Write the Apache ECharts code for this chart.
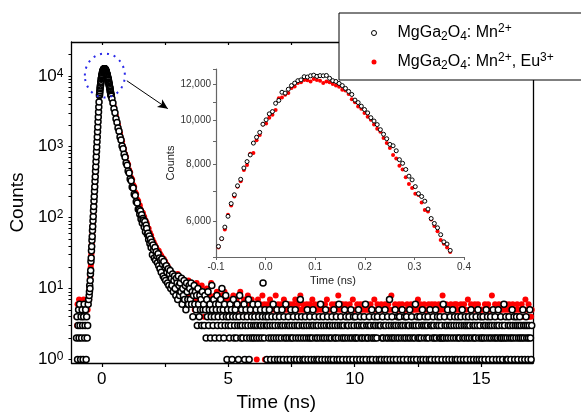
<!DOCTYPE html>
<html><head><meta charset="utf-8">
<script src="https://cdn.jsdelivr.net/npm/echarts@6/dist/echarts.min.js"></script>
<style>html,body{margin:0;padding:0;background:#fff}#c{width:581px;height:417px}</style>
</head><body><div id="c"></div><script>
// ---------------- data ----------------
const seriesNames = ['MgGa2O4: Mn2+', 'MgGa2O4: Mn2+, Eu3+'];

const mainXLabels = [0, 5, 10, 15];
const mainXTicks = [0, 2.5, 5, 7.5, 10, 12.5, 15];
const mainYLabels = [1, 10, 100, 1000, 10000];
const mainYTicks = [1,2,3,4,5,6,7,8,9,10,20,30,40,50,60,70,80,90,100,200,300,400,500,600,700,800,900,
  1000,2000,3000,4000,5000,6000,7000,8000,9000,10000,20000];
const insetYLabels = [6000, 8000, 10000, 12000];
const insetYTicks = [5000, 6000, 7000, 8000, 9000, 10000, 11000, 12000, 13000];

// TCSPC channel sections: start time (ns), channel width (ns), counts
const baselineStart = -1.0, baselineStep = 0.02;
const baselineBlack = [2,4,1,3,5,2,6,3,1,4,2,5,3,1,4,6,2,3,5,1,4,2,3,6,7];
const baselineRed   = [4,3,6,2,5,7,3,4,5,3,6,4,2,5,7,3,4,6,3,5,4,7,5,6,7];

const riseStart = -0.50, riseStep = 0.01;
const riseBlack = [8,9,11,10,13,16,18,24,27,34,39,48,54,66,75,90,104,125,143,172,198,236,272,327,377,450,520,620,720,855,995,1180,1370,1630,1900,2250,2620,3100,3620,4280];
const riseRed   = [7,10,9,12,14,15,20,22,29,31,41,45,57,63,78,86,108,120,148,166,204,230,280,318,385,440,530,610,735,840,1010,1160,1390,1600,1920,2220,2650,3060,3650,4230];

const peakStart = -0.095, peakStep = 0.0064;
const peakBlack = [5276,5490,5820,6150,6560,6860,7180,7420,7860,8120,8400,8920,9190,9420,9820,10040,10350,10470,10920,11080,
  11550,11500,11730,11950,12100,12250,12300,12500,12480,12560,12600,12520,12570,12560,12580,12400,12250,12200,12080,11950,
  11780,11600,11420,11100,10960,10760,10580,10400,10150,9980,9800,9550,9330,9120,8860,8800,8580,8200,8050,7800,
  7540,7400,7150,6900,6800,6640,6380,6080,5930,5800,5600,5400,5340,5170];
const peakRed = [5250,5480,5750,6200,6500,6800,7150,7350,7780,7980,8450,8480,9050,9300,9800,9850,10150,10300,10550,11200,
  11250,11400,11500,11800,11900,12100,12150,12300,12280,12200,12350,12300,12250,12100,12200,12150,12050,11950,11880,11700,
  11650,11450,11150,10980,10750,10620,10400,10200,10050,9800,9600,9450,9150,8920,8700,8400,8250,7950,7800,7500,
  7250,7100,6900,6850,6600,6350,6300,6050,5850,5700,5450,5350,5250,5130];

const decayStart = 0.40, decayStep = 0.04;
const decayBlack = [4760,4150,3420,3010,2480,2200,1830,1650,1370,1240,1020,940,780,712,590,548,455,425,351,332,
  270,262,214,205,168,161,131,129];
const decayRed = [4700,4200,3620,3050,2700,2290,2040,1720,1560,1320,1190,1010,925,780,715,600,560,470,438,365,
  344,288,272,228,216,180,172,144];

const slowStart = 1.50, slowStep = 0.025;
const slowBlack = [112,124,96,110,84,97,92,74,88,63,78,70,58,60,49,55,43,50,38,45,
  30,41,35,27,38,25,33,29,23,31,21,27,19,25,17,26,22,15,24,14,
  20,13,21,17,12,19,11,16,18,10,14,11,16,9,13,15,10,8,14,12,
  7,15,11,8,12,9,14,6,10,8,13,7,11,5,12,9,7,6,11,10,
  7,12,6,9,4,8,11,6,9,5,8,3,10,6,4,8,5,7,3,9,5];
const slowRed = [150,132,126,121,108,116,97,103,88,92,80,84,72,63,70,57,61,52,56,47,
  49,40,45,36,41,33,38,29,35,27,34,25,31,23,29,22,27,20,26,19,
  24,17,22,15,21,14,19,13,18,12,17,11,16,13,10,15,12,9,14,11,
  16,9,13,10,12,8,14,9,11,7,13,10,8,12,6,11,9,13,7,10,
  8,12,6,9,11,7,10,5,9,8,12,6,7,10,5,9,8,6,11,7,6];

const tailStart = 4.025, tailStep = 0.025;
const tailBlack = [
  6,3,8,5,2,7,4,9,3,5,6,2,4,11,5,3,7,4,2,6,
  5,8,3,4,6,2,5,7,3,10,4,5,2,6,3,8,4,1,5,3,
  4,2,6,3,5,1,4,7,2,3,5,4,2,6,3,1,4,8,3,2,
  5,3,2,4,6,1,3,5,2,4,3,7,1,2,5,3,4,2,6,3,
  2,4,3,5,2,3,6,4,2,3,5,3,2,4,12,3,2,5,4,3,
  1,3,4,2,5,3,1,2,4,3,6,2,1,3,4,2,5,1,3,2,
  4,1,3,2,5,3,1,4,2,3,6,2,1,3,4,2,3,1,5,2,
  3,2,4,1,3,5,2,1,3,4,2,3,1,7,2,4,3,1,2,3,
  1,4,2,3,5,1,2,3,4,2,1,3,2,5,3,1,4,2,3,1,
  2,3,1,4,2,6,3,1,2,4,3,2,1,5,3,2,4,1,3,2,
  3,1,2,4,3,1,5,2,3,2,4,1,3,2,6,1,3,4,2,3,
  1,2,3,5,2,4,1,3,2,3,4,1,2,5,3,2,1,4,3,2,
  4,2,1,3,2,5,3,1,4,2,3,2,1,3,4,2,6,1,3,2,
  2,3,4,1,3,2,5,1,2,3,4,2,3,1,2,4,3,5,1,3,
  3,1,2,4,2,3,1,5,3,2,1,4,2,3,7,1,2,3,4,2,
  1,3,2,5,3,1,2,4,3,2,4,1,3,2,5,3,1,2,4,3,
  2,4,1,3,2,3,5,2,1,4,3,2,1,3,2,6,3,1,4,2,
  3,2,4,1,2,3,5,1,3,2,4,3,1,2,3,4,2,1,5,3,
  1,3,2,4,3,2,1,5,2,3,4,1,3,2,4,2,3,1,2,6,
  2,4,3,1,2,3,5,2,1,3,4,2,3,1,5,2,3,4,1,2,
  3,1,4,2,3,2,1,4,3,5,2,1,3,2,4,3,1,2,3,4,
  2,3,1,5,2,4,3,1,2,3,2,4,1,3,5,2,1,3,4,2,
  1,2,4,3,2,1,3,5,2,4,3,1,2,3,4,2,3,1,5,2,
  3,4,2,1,3,2,5,3,1,2,4,2,3,1,2,6,3,2,4,1,
  2,1,3,4,2,3,1,2,5,3,2,4,1,3,2,4,3,1,2,3,
  4,2,3,1,2,5,3,2,1,3,4,2,3,1,2,3,5,2,1,3];
const tailRed = [
  7,4,9,5,6,10,3,7,5,8,4,6,12,5,3,7,6,4,8,5,
  6,9,4,5,7,3,6,8,5,4,7,5,3,9,6,4,5,7,4,6,
  5,3,7,4,6,2,5,8,4,6,3,5,7,4,2,6,5,4,9,3,
  6,4,5,3,7,1,4,6,5,3,8,4,6,2,5,4,7,3,5,4,
  3,5,4,6,1,4,7,5,3,4,6,5,2,8,4,3,6,1,5,4,
  4,6,3,5,4,7,2,5,4,3,6,4,5,3,8,4,5,2,6,4,
  5,3,4,6,2,5,4,7,3,5,4,6,3,5,4,2,6,4,5,3,
  4,6,5,3,4,7,5,2,4,6,3,5,4,8,3,5,4,6,2,5,
  3,5,4,6,5,3,4,2,6,4,5,3,7,4,5,3,6,4,2,5,
  5,4,6,3,4,5,2,6,4,5,3,4,6,5,3,7,4,5,3,4,
  4,5,3,6,4,2,5,4,6,3,5,4,3,8,4,5,3,6,4,5,
  6,4,5,3,4,6,2,5,4,3,5,6,4,3,5,4,7,3,5,4,
  3,5,4,6,2,5,4,3,6,4,5,3,4,6,5,2,4,5,3,6,
  5,4,3,5,6,4,2,5,4,3,7,4,5,3,4,6,5,3,4,5,
  4,6,3,5,4,5,3,6,2,4,5,4,6,3,5,4,3,8,4,5,
  5,3,4,6,5,4,2,5,4,6,3,5,4,3,6,4,5,2,4,5,
  4,5,6,3,4,5,3,4,6,2,5,4,3,5,4,6,3,5,4,7,
  3,4,5,6,4,3,5,4,2,6,5,3,4,5,4,3,6,4,5,3,
  5,6,4,3,5,4,6,2,4,5,3,4,6,5,3,4,5,4,8,3,
  4,5,3,4,6,5,3,4,2,5,4,6,3,5,4,5,3,6,4,5,
  6,4,5,3,4,5,2,6,4,3,5,4,6,3,4,5,4,3,7,4,
  3,5,4,6,5,3,4,5,3,6,4,2,5,4,6,3,5,4,3,5,
  5,4,3,5,4,6,4,3,5,2,6,4,5,3,4,5,8,4,3,5,
  4,6,5,3,4,5,3,6,4,5,2,4,5,6,3,4,5,4,6,3,
  5,3,4,6,5,4,3,5,4,6,3,5,2,4,5,4,6,3,5,4,
  4,5,3,6,4,5,4,3,5,7,4,5,3,4,6,4,5,3,4,5];

// annotation anchor points (data coordinates)
const circleCenter = [0.12, 10100];
const arrowFrom = [0.99, 8520];
const arrowTo = [2.61, 3444];

// ---------------- build ----------------
function section(start, step, vals) {
  return vals.map((v, i) => [+(start + i * step).toFixed(4), v]);
}
const mainBlack = [].concat(
  section(baselineStart, baselineStep, baselineBlack),
  section(riseStart, riseStep, riseBlack),
  section(peakStart, peakStep, peakBlack),
  section(decayStart, decayStep, decayBlack),
  section(slowStart, slowStep, slowBlack),
  section(tailStart, tailStep, tailBlack));
const mainRed = [].concat(
  section(baselineStart, baselineStep, baselineRed),
  section(riseStart, riseStep, riseRed),
  section(peakStart, peakStep, peakRed),
  section(decayStart, decayStep, decayRed),
  section(slowStart, slowStep, slowRed),
  section(tailStart, tailStep, tailRed));
const insetBlack = section(peakStart, peakStep, peakBlack);
const insetRed = section(peakStart, peakStep, peakRed);

const FONT = "'Liberation Sans', Arial, sans-serif";
const chart = echarts.init(document.getElementById('c'), null, {renderer: 'canvas'});

const blackStyle = {color: '#ffffff', borderColor: '#000000', borderWidth: 1.5, opacity: 1};
const redStyle = {color: '#ff0000', borderWidth: 0, opacity: 1};

const option = {
  animation: false,
  backgroundColor: '#ffffff',
  textStyle: {fontFamily: FONT},
  legend: {
    orient: 'vertical',
    left: 339, top: 13,
    padding: [10, 28, 8, 32],
    itemGap: 9,
    itemWidth: 5, itemHeight: 5,
    backgroundColor: '#ffffff',
    borderColor: '#000000', borderWidth: 1,
    data: [
      {name: seriesNames[0], itemStyle: {color: '#ffffff', borderColor: '#000', borderWidth: 1, opacity: 1}},
      {name: seriesNames[1], itemStyle: {color: '#ff0000', borderWidth: 0, opacity: 1}}
    ],
    formatter: function (name) {
      return name === seriesNames[0]
        ? 'MgGa{sub|2}O{sub|4}: Mn{sup|2+}'
        : 'MgGa{sub|2}O{sub|4}: Mn{sup|2+}, Eu{sup|3+}';
    },
    textStyle: {
      fontFamily: FONT, fontSize: 16, color: '#000', lineHeight: 20,
      padding: [0, 0, 0, 16],
      rich: {
        sub: {fontFamily: FONT, fontSize: 12, lineHeight: 11, verticalAlign: 'bottom', color: '#000'},
        sup: {fontFamily: FONT, fontSize: 12, lineHeight: 12, verticalAlign: 'top', color: '#000'}
      }
    }
  },
  grid: [
    {left: 71, top: 42, right: 48, bottom: 49},
    {left: 216, top: 69, width: 248, height: 188}
  ],
  xAxis: [
    {
      gridIndex: 0, type: 'value', min: -1.2, max: 17.05, position: 'bottom',
      name: 'Time (ns)', nameLocation: 'middle', nameGap: 30,
      nameTextStyle: {fontFamily: FONT, fontSize: 19, color: '#000', padding: [0, 52, 0, 0]},
      axisLine: {show: true, onZero: false, lineStyle: {color: '#000', width: 1.3}},
      axisTick: {show: true, length: 4, customValues: mainXTicks, lineStyle: {color: '#000', width: 1.2}},
      axisLabel: {customValues: mainXLabels, fontFamily: FONT, fontSize: 17, color: '#000', margin: 8},
      splitLine: {show: false}
    },
    {
      gridIndex: 0, type: 'value', min: -1.2, max: 17.05, position: 'top',
      axisLine: {show: true, onZero: false, lineStyle: {color: '#000', width: 1.3}},
      axisTick: {show: true, inside: true, length: 3, customValues: mainXTicks, lineStyle: {color: '#000', width: 1.2}},
      axisLabel: {show: false},
      splitLine: {show: false}
    },
    {
      gridIndex: 1, type: 'value', min: -0.1, max: 0.4, interval: 0.1,
      name: 'Time (ns)', nameLocation: 'middle', nameGap: 18,
      nameTextStyle: {fontFamily: FONT, fontSize: 11, color: '#222', padding: [0, 14, 0, 0]},
      axisLine: {show: true, onZero: false, lineStyle: {color: '#666', width: 1.2}},
      axisTick: {show: true, length: 3, lineStyle: {color: '#666'}},
      axisLabel: {fontFamily: FONT, fontSize: 10, color: '#333', margin: 5,
        formatter: v => v.toFixed(1)},
      splitLine: {show: false}
    }
  ],
  yAxis: [
    {
      gridIndex: 0, type: 'log', logBase: 10, min: 0.89, max: 30000, position: 'left',
      name: 'Counts', nameLocation: 'middle', nameGap: 44,
      nameTextStyle: {fontFamily: FONT, fontSize: 19, color: '#000'},
      axisLine: {show: true, onZero: false, lineStyle: {color: '#000', width: 1.3}},
      axisTick: {show: true, length: 3, customValues: mainYTicks, lineStyle: {color: '#000', width: 1}},
      axisLabel: {
        customValues: mainYLabels, fontFamily: FONT, fontSize: 17, color: '#000', margin: 8,
        formatter: v => '10{sup|' + Math.round(Math.log10(v)) + '}',
        rich: {sup: {fontFamily: FONT, fontSize: 12, lineHeight: 12, verticalAlign: 'top', color: '#000'}}
      },
      splitLine: {show: false}, minorSplitLine: {show: false}
    },
    {
      gridIndex: 0, type: 'value', min: 0, max: 1, position: 'right',
      axisLine: {show: true, onZero: false, lineStyle: {color: '#000', width: 1.3}},
      axisTick: {show: false}, axisLabel: {show: false}, splitLine: {show: false}
    },
    {
      gridIndex: 1, type: 'log', logBase: 10, min: 5000, max: 13000,
      name: 'Counts', nameLocation: 'middle', nameGap: 38,
      nameTextStyle: {fontFamily: FONT, fontSize: 11, color: '#222'},
      axisLine: {show: true, onZero: false, lineStyle: {color: '#666', width: 1.2}},
      axisTick: {show: true, length: 3, customValues: insetYTicks, lineStyle: {color: '#666'}},
      axisLabel: {customValues: insetYLabels, fontFamily: FONT, fontSize: 10, color: '#333', margin: 5,
        formatter: v => Math.round(v).toLocaleString('en-US')},
      splitLine: {show: false}
    }
  ],
  series: [
    {
      name: seriesNames[1], type: 'scatter', xAxisIndex: 0, yAxisIndex: 0,
      symbol: 'circle', symbolSize: 6, itemStyle: redStyle, data: mainRed, silent: true
    },
    {
      name: seriesNames[0], type: 'scatter', xAxisIndex: 0, yAxisIndex: 0,
      symbol: 'circle', symbolSize: 6, itemStyle: blackStyle, data: mainBlack, silent: true,
      markLine: {
        silent: true, symbol: ['none', 'arrow'], symbolSize: [7, 10],
        lineStyle: {color: '#000', width: 1, type: 'solid', opacity: 1},
        label: {show: false},
        data: [[{coord: arrowFrom}, {coord: arrowTo}]]
      }
    },
    {
      name: seriesNames[1], type: 'scatter', xAxisIndex: 2, yAxisIndex: 2,
      symbol: 'circle', symbolSize: 4, itemStyle: redStyle, data: insetRed, silent: true
    },
    {
      name: seriesNames[0], type: 'scatter', xAxisIndex: 2, yAxisIndex: 2,
      symbol: 'circle', symbolSize: 4, itemStyle: {color: '#fff', borderColor: '#000', borderWidth: 1, opacity: 1}, data: insetBlack, silent: true
    }
  ]
};
chart.setOption(option);

const cpt = chart.convertToPixel({xAxisIndex: 0, yAxisIndex: 0}, circleCenter);
chart.setOption({
  graphic: [{
    type: 'ellipse', z: 20, silent: true,
    shape: {cx: cpt[0], cy: cpt[1], rx: 20, ry: 22},
    style: {fill: 'none', stroke: '#2a2ae8', lineWidth: 2, lineDash: [2, 5]}
  }]
});
</script></body></html>
